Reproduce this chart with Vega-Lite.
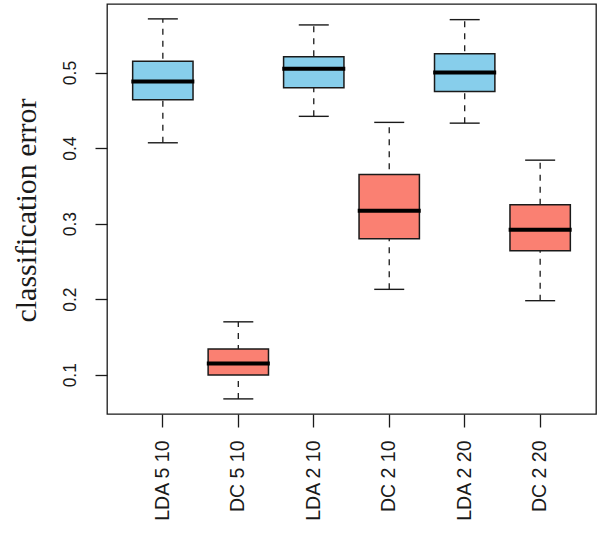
{
  "$schema": "https://vega.github.io/schema/vega-lite/v6.json",
  "width": 489,
  "height": 410,
  "autosize": "none",
  "padding": {"left": 107, "top": 4, "right": 4, "bottom": 134},
  "background": "white",
  "config": {
    "view": {"stroke": "#1a1a1a", "strokeWidth": 1.3},
    "axis": {"grid": false, "domain": false, "labelFont": "Liberation Sans", "labelColor": "#1a1a1a", "tickColor": "#1a1a1a", "tickWidth": 1.3}
  },
  "data": {
    "values": [
      {"group": "LDA 5 10", "method": "LDA", "lo": 0.407, "q1": 0.464, "med": 0.488, "q3": 0.515, "hi": 0.571},
      {"group": "DC 5 10", "method": "DC", "lo": 0.068, "q1": 0.0996, "med": 0.115, "q3": 0.134, "hi": 0.170},
      {"group": "LDA 2 10", "method": "LDA", "lo": 0.442, "q1": 0.480, "med": 0.505, "q3": 0.521, "hi": 0.563},
      {"group": "DC 2 10", "method": "DC", "lo": 0.213, "q1": 0.280, "med": 0.317, "q3": 0.365, "hi": 0.434},
      {"group": "LDA 2 20", "method": "LDA", "lo": 0.433, "q1": 0.475, "med": 0.500, "q3": 0.525, "hi": 0.570},
      {"group": "DC 2 20", "method": "DC", "lo": 0.198, "q1": 0.264, "med": 0.292, "q3": 0.325, "hi": 0.384}
    ]
  },
  "encoding": {
    "x": {
      "field": "group",
      "type": "nominal",
      "sort": null,
      "scale": {"paddingInner": 0, "paddingOuter": 0.24},
      "axis": {"title": null, "labelAngle": 270, "labelAlign": "right", "labelBaseline": "middle", "labelFontSize": 19.5, "tickSize": 13, "labelPadding": 13}
    }
  },
  "layer": [
    {
      "mark": {"type": "rule", "strokeDash": [6, 6], "strokeWidth": 1.3, "color": "#1a1a1a"},
      "encoding": {
        "y": {
          "field": "lo",
          "type": "quantitative",
          "scale": {"domain": [0.048, 0.5907], "nice": false, "zero": false},
          "axis": {
            "title": "classification error",
            "titleFont": "Liberation Serif",
            "titleFontSize": 30,
            "titleFontWeight": "normal",
            "titleColor": "#1a1a1a",
            "titleAngle": 270,
            "titleAlign": "center",
            "titleBaseline": "alphabetic",
            "titleX": -72,
            "titleY": 206,
            "values": [0.1, 0.2, 0.3, 0.4, 0.5],
            "format": ".1f",
            "labelAngle": 270,
            "labelAlign": "center",
            "labelBaseline": "alphabetic",
            "labelFontSize": 17.5,
            "tickSize": 12,
            "labelPadding": 20
          }
        },
        "y2": {"field": "hi"}
      }
    },
    {
      "mark": {"type": "bar", "width": {"band": 0.8}, "stroke": "#1a1a1a", "strokeWidth": 1.5},
      "encoding": {
        "y": {"field": "q1", "type": "quantitative"},
        "y2": {"field": "q3"},
        "color": {"field": "method", "type": "nominal", "scale": {"domain": ["LDA", "DC"], "range": ["#87CEEB", "#FA8072"]}, "legend": null}
      }
    },
    {
      "mark": {"type": "tick", "orient": "horizontal", "size": 63, "thickness": 4, "color": "#000000", "opacity": 1},
      "encoding": {"y": {"field": "med", "type": "quantitative"}}
    },
    {
      "mark": {"type": "tick", "orient": "horizontal", "size": 30, "thickness": 1.4, "color": "#1a1a1a", "opacity": 1},
      "encoding": {"y": {"field": "lo", "type": "quantitative"}}
    },
    {
      "mark": {"type": "tick", "orient": "horizontal", "size": 30, "thickness": 1.4, "color": "#1a1a1a", "opacity": 1},
      "encoding": {"y": {"field": "hi", "type": "quantitative"}}
    }
  ]
}
